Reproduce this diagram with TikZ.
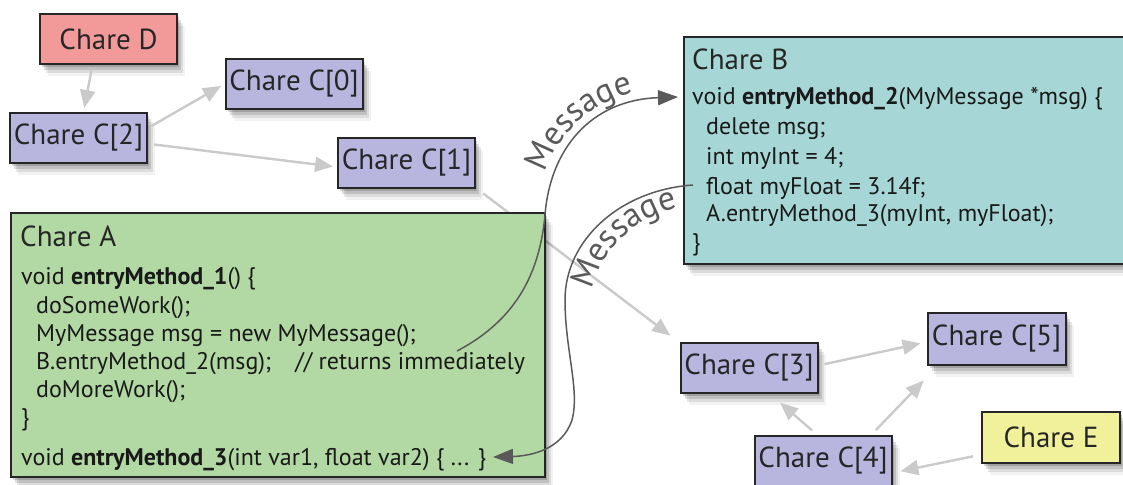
\documentclass[tikz,border=0pt]{standalone}
\usepackage{fontspec}
\setmainfont{PT Sans}
\usetikzlibrary{arrows.meta,calc,shadows,decorations.text}
\definecolor{salmon}{HTML}{F2999A}
\definecolor{lav}{HTML}{B8B5DE}
\definecolor{greenA}{HTML}{B2D9A3}
\definecolor{tealB}{HTML}{A6D7D6}
\definecolor{yellowE}{HTML}{F1F09B}
\definecolor{arrgray}{HTML}{CACACA}
\definecolor{bordercol}{HTML}{262626}
\definecolor{msggray}{HTML}{5A5A5A}
\newcommand\msgfont{\fontsize{34}{34}\selectfont}
\tikzset{
  softshadow/.style={
    drop shadow={shadow xshift=2pt,shadow yshift=-3pt,opacity=.16,fill=black},
    drop shadow={shadow xshift=4pt,shadow yshift=-6pt,opacity=.13,fill=black},
    drop shadow={shadow xshift=6pt,shadow yshift=-9pt,opacity=.09,fill=black},
    drop shadow={shadow xshift=8pt,shadow yshift=-12pt,opacity=.05,fill=black}},
  cbox/.style={draw=bordercol,line width=2pt,minimum width=137pt,minimum height=50pt,
    inner sep=0pt,font=\fontsize{29}{32}\selectfont,text=black!85,softshadow},
  bigbox/.style={draw=bordercol,line width=2pt,inner sep=0pt,softshadow},
  title/.style={anchor=base west,inner sep=0pt,font=\fontsize{29}{32}\selectfont,text=black!85},
  code/.style={anchor=base west,inner sep=0pt,font=\fontsize{24}{28}\selectfont,text=black!90},
  garrow/.style={draw=arrgray,line width=2.4pt,-{Triangle[length=18pt,width=15pt]},
    shorten <=4pt,shorten >=4pt},
  msgarrow/.style={draw=msggray,line width=1.5pt,-{Triangle[length=20pt,width=15pt]}},
  msgtext/.style={decorate,decoration={text along path,text align=center,
    text={|\msgfont|Message},text color=msggray}}
}
\begin{document}
\begin{tikzpicture}[x=1pt,y=-1pt]
\useasboundingbox (0,0) rectangle (1123,484);
% small chare nodes
\node[cbox,fill=salmon] (D) at (108.5,39) {Chare D};
\node[cbox,fill=lav] (C0) at (294,84) {Chare C[0]};
\node[cbox,fill=lav] (C2) at (78.5,138) {Chare C[2]};
\node[cbox,fill=lav] (C1) at (406.5,163) {Chare C[1]};
\node[cbox,fill=lav] (C3) at (749,368) {Chare C[3]};
\node[cbox,fill=lav,minimum width=138pt,minimum height=52pt] (C5) at (996.5,338.5) {Chare C[5]};
\node[cbox,fill=lav] (C4) at (823,461) {Chare C[4]};
\node[cbox,fill=yellowE,minimum width=138pt,minimum height=51pt] (E) at (1051,437.5) {Chare E};
% gray arrows
\draw[garrow] ($(D.south)+(-16,0)$) -- ($(C2.north)+(5,0)$);
\draw[garrow] ($(C2.east)+(0,-10)$) -- ($(C0.west)+(0,0)$);
\draw[garrow] ($(C2.east)+(2,6)$) -- ($(C1.west)+(0,4)$);
\draw[garrow] ($(C1.south east)+(4,2)$) -- ($(C3.north west)+(-6,-4)$);
\draw[garrow] ($(C3.east)+(2,-3)$) -- ($(C5.west)+(-2,4)$);
\draw[garrow] ($(C4.north)+(-8,-2)$) -- ($(C3.south)+(28,6)$);
\draw[garrow] ($(C4.north)+(50,-2)$) -- ($(C5.south west)+(0,12)$);
\draw[garrow] ($(E.west)+(-4,18)$) -- ($(C4.east)+(4,11)$);
% big chare boxes
\node[bigbox,fill=greenA,minimum width=534pt,minimum height=264pt] (A) at (278,345) {};
\node[bigbox,fill=tealB,minimum width=446pt,minimum height=227pt] (B) at (907,150.5) {};
% Chare A text
\node[title] (Atitle) at (20,246) {Chare A};
\node[code] (A1) at (21,284) {void \textbf{entryMethod\_1}() \{};
\node[code] (A2) at (36,313) {doSomeWork();};
\node[code] (A3) at (36,341) {MyMessage msg = new MyMessage();};
\node[code] (A4) at (36,369) {B.entryMethod\_2(msg);\quad// returns immediately};
\node[code] (A5) at (36,397) {doMoreWork();};
\node[code] (A6) at (21,425) {\}};
\node[code] (A7) at (21,465) {void \textbf{entryMethod\_3}(int var1, float var2) \{ ... \}};
% Chare B text
\node[title] (Btitle) at (692,70) {Chare B};
\node[code] (B1) at (692,105) {void \textbf{entryMethod\_2}(MyMessage *msg) \{};
\node[code] (B2) at (706,135) {delete msg;};
\node[code] (B3) at (706,164) {int myInt = 4;};
\node[code] (B4) at (706,194) {float myFloat = 3.14f;};
\node[code] (B5) at (706,221) {A.entryMethod\_3(myInt, myFloat);};
\node[code] (B6) at (692,250) {\}};
% message curves
\coordinate (m1s) at (457,351);
\coordinate (m1e) at (678,97);
\coordinate (m2s) at (693,185);
\coordinate (m2e) at (493,457);
\draw[msgarrow] (m1s) .. controls (520,318) and (540,268) .. (545,215)
  .. controls (550,150) and (590,100) .. (m1e);
\draw[msgarrow] (m2s) .. controls (620,190) and (565,240) .. (565,300)
  .. controls (565,350) and (580,390) .. (572,420)
  .. controls (562,450) and (530,456) .. (m2e);
\path[msgtext] (538,215) .. controls (541,145) and (586,90) .. (676,86);
\path[msgtext] (588,312) .. controls (597,250) and (632,212) .. (700,204);
\end{tikzpicture}
\end{document}
